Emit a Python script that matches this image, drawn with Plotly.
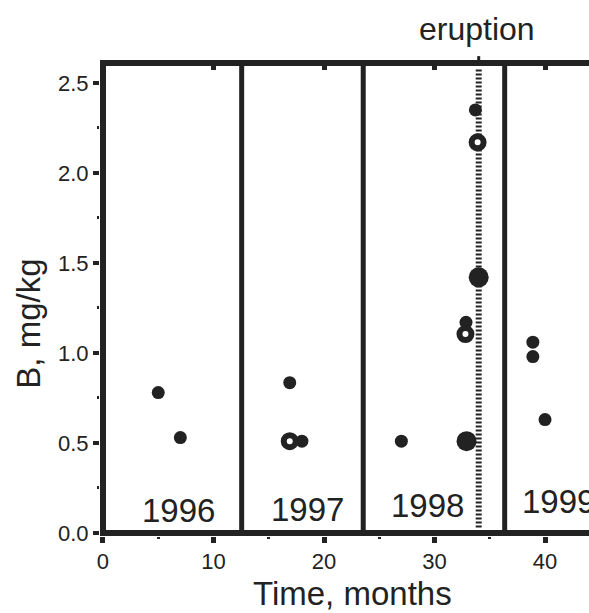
import plotly.graph_objects as go

# ---- data ----
small_month = [5.0, 7.0, 16.9, 18.0, 27.0, 32.85, 33.7, 38.9, 38.9, 40.0]
small_b = [0.78, 0.53, 0.835, 0.51, 0.51, 1.17, 2.35, 1.06, 0.98, 0.63]

large_month = [32.9, 34.0]
large_b = [0.51, 1.42]

open_month = [16.9, 32.8, 33.9]
open_b = [0.51, 1.105, 2.17]

year_labels = ["1996", "1997", "1998", "1999"]
year_label_month = [6.85, 18.5, 29.35, 41.2]
year_label_b = [0.125, 0.13, 0.155, 0.175]
year_bounds = [12.55, 23.55, 36.35]
eruption_month = 34.0

x_ticks = [0, 10, 20, 30, 40]
y_ticks = [0.0, 0.5, 1.0, 1.5, 2.0, 2.5]
y_tick_text = ["0.0", "0.5", "1.0", "1.5", "2.0", "2.5"]

INK = "#222222"
FONT = "Liberation Sans, Arial, Helvetica, sans-serif"

fig = go.Figure()

fig.add_trace(go.Scatter(x=small_month, y=small_b, mode="markers",
                         marker=dict(size=13, color=INK, line=dict(width=0)),
                         showlegend=False, hoverinfo="skip"))
fig.add_trace(go.Scatter(x=large_month, y=large_b, mode="markers",
                         marker=dict(size=20, color=INK, line=dict(width=0)),
                         showlegend=False, hoverinfo="skip"))
fig.add_trace(go.Scatter(x=open_month, y=open_b, mode="markers",
                         marker=dict(size=12, color="white", line=dict(width=6, color=INK)),
                         showlegend=False, hoverinfo="skip"))

# dummy trace for the top axis
fig.add_trace(go.Scatter(x=[None], y=[None], xaxis="x2", yaxis="y",
                         showlegend=False, hoverinfo="skip"))

shapes = []
for xb in year_bounds:
    shapes.append(dict(type="line", xref="x", yref="y", x0=xb, x1=xb, y0=0, y1=2.6,
                       line=dict(color=INK, width=5), layer="below"))
shapes.append(dict(type="line", xref="x", yref="y", x0=eruption_month, x1=eruption_month,
                   y0=0.03, y1=2.58, line=dict(color=INK, width=6, dash="2px,2px"),
                   layer="below"))
shapes.append(dict(type="line", xref="x", yref="paper", x0=eruption_month, x1=eruption_month,
                   y0=1.0, y1=1.021, line=dict(color=INK, width=3)))

annotations = []
for lab, xm, yb in zip(year_labels, year_label_month, year_label_b):
    annotations.append(dict(text=lab, x=xm, y=yb, xref="x", yref="y",
                            showarrow=False, xanchor="center", yanchor="middle",
                            font=dict(size=33, color=INK, family=FONT)))
annotations.append(dict(text="eruption", x=eruption_month - 0.15, y=1.0787, xref="x", yref="paper",
                        showarrow=False, xanchor="center", yanchor="middle",
                        font=dict(size=32, color=INK, family=FONT)))
annotations.append(dict(text="Time, months", x=0.5164, y=-0.1234, xref="paper", yref="paper",
                        showarrow=False, xanchor="center", yanchor="middle",
                        font=dict(size=33, color=INK, family=FONT)))
annotations.append(dict(text="B, mg/kg", x=-0.147, y=0.452, xref="paper", yref="paper",
                        showarrow=False, xanchor="center", yanchor="middle", textangle=-90,
                        font=dict(size=33, color=INK, family=FONT)))

x_range = [-0.27, 43.98]
y_range = [-0.0167, 2.594]

fig.update_layout(
    template="none",
    width=589, height=613,
    margin=dict(l=100, r=0, t=66, b=77, pad=0, autoexpand=False),
    paper_bgcolor="white", plot_bgcolor="white",
    font=dict(family=FONT, color=INK, size=22),
    shapes=shapes, annotations=annotations,
    xaxis=dict(range=x_range, showgrid=False, automargin=False,
               zeroline=True, zerolinewidth=6, zerolinecolor=INK,
               showline=False,
               tickmode="array", tickvals=x_ticks, ticktext=[str(v) for v in x_ticks],
               ticks="outside", ticklen=6, tickwidth=5, tickcolor=INK,
               tickfont=dict(size=22, color=INK, family=FONT),
               minor=dict(ticks="outside", ticklen=2, tickwidth=3, dtick=5, tick0=0,
                          tickcolor=INK, showgrid=False)),
    xaxis2=dict(range=x_range, overlaying="x", side="top", matches="x", automargin=False,
                showgrid=False, zeroline=False, showline=True, linewidth=6, linecolor=INK,
                tickmode="array", tickvals=x_ticks, showticklabels=False,
                ticks="inside", ticklen=4, tickwidth=5, tickcolor=INK),
    yaxis=dict(range=y_range, showgrid=False, automargin=False,
               zeroline=True, zerolinewidth=6, zerolinecolor=INK,
               showline=False,
               tickmode="array", tickvals=y_ticks, ticktext=y_tick_text,
               ticks="outside", ticklen=6, tickwidth=4, tickcolor=INK,
               tickfont=dict(size=22, color=INK, family=FONT),
               minor=dict(ticks="outside", ticklen=2, tickwidth=3, dtick=0.25, tick0=0,
                          tickcolor=INK, showgrid=False)),
)

fig.write_html("out.html", config={"displayModeBar": False},
               post_script="document.body.style.margin='0';document.body.style.overflow='hidden';")
